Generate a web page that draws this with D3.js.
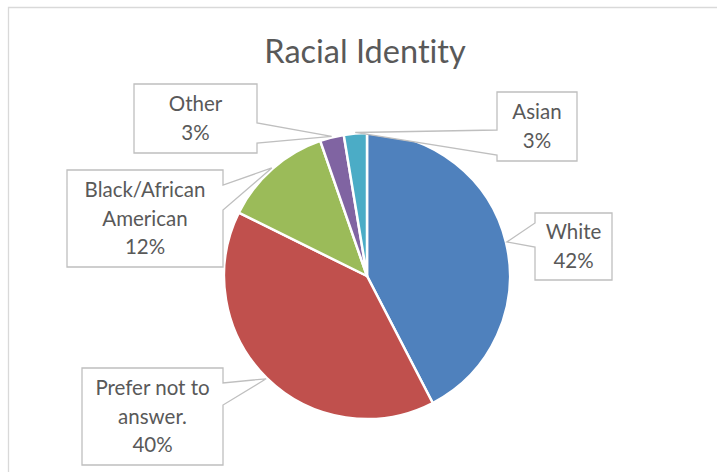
<!DOCTYPE html>
<html><head><meta charset="utf-8">
<script src="https://cdn.jsdelivr.net/npm/d3@7/dist/d3.min.js"></script>
<style>
html,body{margin:0;padding:0;background:#fff;}
svg{display:block;}
text{font-family:Lato,"Open Sans",sans-serif;fill:#595959;font-variant-ligatures:none;font-feature-settings:"liga" 0;}
</style></head>
<body>
<svg id="chart" width="717" height="472"></svg>
<script>
const title = "Racial Identity";
const categories = ["White", "Prefer not to answer.", "Black/African American", "Other", "Asian"];
const labelLines = [["White"], ["Prefer not to", "answer."], ["Black/African", "American"], ["Other"], ["Asian"]];
const values = [42.4, 39.9, 12.4, 2.7, 2.6];
const colors = ["#4F81BD", "#C0504D", "#9BBB59", "#8064A2", "#4BACC6"];

const svg = d3.select("#chart");
const W = 717, H = 472;

// chart border
svg.append("path").attr("d", `M8.5,${H}V7.5H${W}`).attr("fill", "none").attr("stroke", "#d9d9d9").attr("stroke-width", 1.3);

svg.append("text").attr("x", 365).attr("y", 63).attr("text-anchor", "middle")
  .style("font-size", "32.5px").text(title);

const cx = 367, cy = 276, R = 143;
const total = d3.sum(values);
const pie = d3.pie().sort(null).value(d => d)(values);
const arc = d3.arc().innerRadius(0).outerRadius(R);
const tipArc = d3.arc().innerRadius(R + 1).outerRadius(R + 1);

const g = svg.append("g").attr("transform", `translate(${cx},${cy})`);
g.selectAll("path").data(pie).join("path")
  .attr("d", arc).attr("fill", (d, i) => colors[i])
  .attr("stroke", "#fff").attr("stroke-width", 2.5).attr("stroke-linejoin", "round");

// callout boxes layout
const boxes = [
  {x0: 535, y0: 213, x1: 612, y1: 280, side: "left", b1: 223, b2: 247},
  {x0: 82, y0: 368, x1: 223, y1: 465, side: "right", b1: 383, b2: 405},
  {x0: 67, y0: 170, x1: 223, y1: 267, side: "right", b1: 185, b2: 210},
  {x0: 134, y0: 84, x1: 257, y1: 153, side: "right", b1: 123, b2: 143},
  {x0: 497, y0: 92, x1: 577, y1: 161, side: "left", b1: 130, b2: 155}
];
const lineH = 28.5;

pie.forEach((d, i) => {
  const b = boxes[i];
  const c = tipArc.centroid(d);
  const tx = cx + c[0], ty = cy + c[1];
  let p;
  if (b.side === "right") {
    p = `M${b.x0},${b.y0}H${b.x1}V${b.b1}L${tx},${ty}L${b.x1},${b.b2}V${b.y1}H${b.x0}Z`;
  } else {
    p = `M${b.x0},${b.y0}H${b.x1}V${b.y1}H${b.x0}V${b.b2}L${tx},${ty}L${b.x0},${b.b1}Z`;
  }
  svg.append("path").attr("d", p).attr("fill", "#fff").attr("stroke", "#bfbfbf").attr("stroke-width", 1.3);
  const lines = labelLines[i].concat([Math.round(d.value / total * 100) + "%"]);
  const midX = (b.x0 + b.x1) / 2, midY = (b.y0 + b.y1) / 2;
  const t = svg.append("text").attr("text-anchor", "middle").style("font-size", "20.5px");
  lines.forEach((ln, k) => {
    t.append("tspan").attr("x", midX)
      .attr("y", midY + (k - (lines.length - 1) / 2) * lineH)
      .attr("dy", "0.35em").text(ln);
  });
});
</script>
</body></html>
